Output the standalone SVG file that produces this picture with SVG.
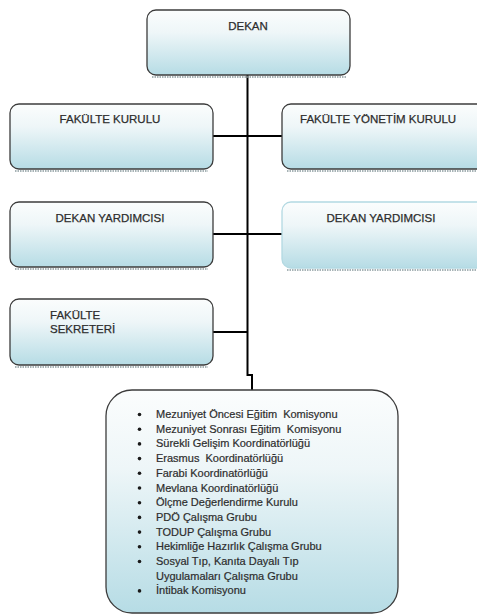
<svg xmlns="http://www.w3.org/2000/svg" width="477" height="616" viewBox="0 0 477 616">
<defs>
<linearGradient id="g" x1="0" y1="0" x2="0" y2="1">
<stop offset="0" stop-color="#fbfdfd"/>
<stop offset="0.35" stop-color="#eef6f8"/>
<stop offset="1" stop-color="#b6dce5"/>
</linearGradient>
<style>
.box{fill:url(#g);stroke:#3c3c3c;stroke-width:1.3}
.boxl{fill:url(#g);stroke:#b3d9e2;stroke-width:1.3}
.sh{fill:none;stroke:#8a9a9e;stroke-width:1.5;stroke-dasharray:1.5 1}
.t{font-family:"Liberation Sans",Arial,sans-serif;font-size:11.5px;fill:#2d2d2d;stroke:#2d2d2d;stroke-width:0.25}
.l{font-family:"Liberation Sans",Arial,sans-serif;font-size:11px;fill:#2d2d2d;stroke:#2d2d2d;stroke-width:0.2}
.c{fill:none;stroke:#000;stroke-width:2}
</style>
</defs>
<rect width="477" height="616" fill="#fff"/>
<g id="connectors">
<path class="c" d="M247.5 75 V375 H252 V390"/>
<path class="c" d="M213 136 H282"/>
<path class="c" d="M213 234 H282"/>
<path class="c" d="M213 332 H247.5"/>
</g>
<g id="dekan">
<path class="sh" d="M152 77 H346"/>
<rect class="box" x="147" y="10" width="203" height="65" rx="9"/>
<text class="t" x="248" y="30" text-anchor="middle">DEKAN</text>
</g>
<g id="fakulte-kurulu">
<path class="sh" d="M15 171 H208"/>
<rect class="box" x="10" y="104" width="203" height="65" rx="9"/>
<text class="t" x="110" y="123" text-anchor="middle">FAKÜLTE KURULU</text>
</g>
<g id="fakulte-yonetim-kurulu">
<path class="sh" d="M287 171 H477"/>
<rect class="box" x="282" y="104" width="210" height="65" rx="9"/>
<text class="t" x="300" y="123">FAKÜLTE YÖNETİM KURULU</text>
</g>
<g id="dekan-yardimcisi-1">
<path class="sh" d="M15 269 H208"/>
<rect class="box" x="10" y="202" width="203" height="65" rx="9"/>
<text class="t" x="110" y="222" text-anchor="middle">DEKAN YARDIMCISI</text>
</g>
<g id="dekan-yardimcisi-2">
<path class="sh" d="M287 270 H477"/>
<rect class="boxl" x="282" y="202" width="210" height="66" rx="9"/>
<text class="t" x="381" y="222" text-anchor="middle">DEKAN YARDIMCISI</text>
</g>
<g id="fakulte-sekreteri">
<path class="sh" d="M15 367 H208"/>
<rect class="box" x="10" y="299" width="203" height="66" rx="9"/>
<text class="t" x="50" y="319">FAKÜLTE</text>
<text class="t" x="50" y="333">SEKRETERİ</text>
</g>
<g id="komisyonlar">
<rect class="box" x="106" y="390" width="292" height="223" rx="26"/>
<g class="l">
<text x="156" y="418" xml:space="preserve">Mezuniyet Öncesi Eğitim  Komisyonu</text>
<text x="156" y="432.7" xml:space="preserve">Mezuniyet Sonrası Eğitim  Komisyonu</text>
<text x="156" y="447.4">Sürekli Gelişim Koordinatörlüğü</text>
<text x="156" y="462.1" xml:space="preserve">Erasmus  Koordinatörlüğü</text>
<text x="156" y="476.8">Farabi Koordinatörlüğü</text>
<text x="156" y="491.5">Mevlana Koordinatörlüğü</text>
<text x="156" y="506.2">Ölçme Değerlendirme Kurulu</text>
<text x="156" y="520.9">PDÖ Çalışma Grubu</text>
<text x="156" y="535.6">TODUP Çalışma Grubu</text>
<text x="156" y="550.3">Hekimliğe Hazırlık Çalışma Grubu</text>
<text x="156" y="565">Sosyal Tıp, Kanıta Dayalı Tıp</text>
<text x="156" y="579.7">Uygulamaları Çalışma Grubu</text>
<text x="156" y="594.4">İntibak Komisyonu</text>
</g>
<g fill="#1a1a1a">
<circle cx="139.5" cy="414.5" r="1.8"/>
<circle cx="139.5" cy="429.2" r="1.8"/>
<circle cx="139.5" cy="443.9" r="1.8"/>
<circle cx="139.5" cy="458.6" r="1.8"/>
<circle cx="139.5" cy="473.3" r="1.8"/>
<circle cx="139.5" cy="488" r="1.8"/>
<circle cx="139.5" cy="502.7" r="1.8"/>
<circle cx="139.5" cy="517.4" r="1.8"/>
<circle cx="139.5" cy="532.1" r="1.8"/>
<circle cx="139.5" cy="546.8" r="1.8"/>
<circle cx="139.5" cy="561.5" r="1.8"/>
<circle cx="139.5" cy="590.9" r="1.8"/>
</g>
</g>
</svg>
